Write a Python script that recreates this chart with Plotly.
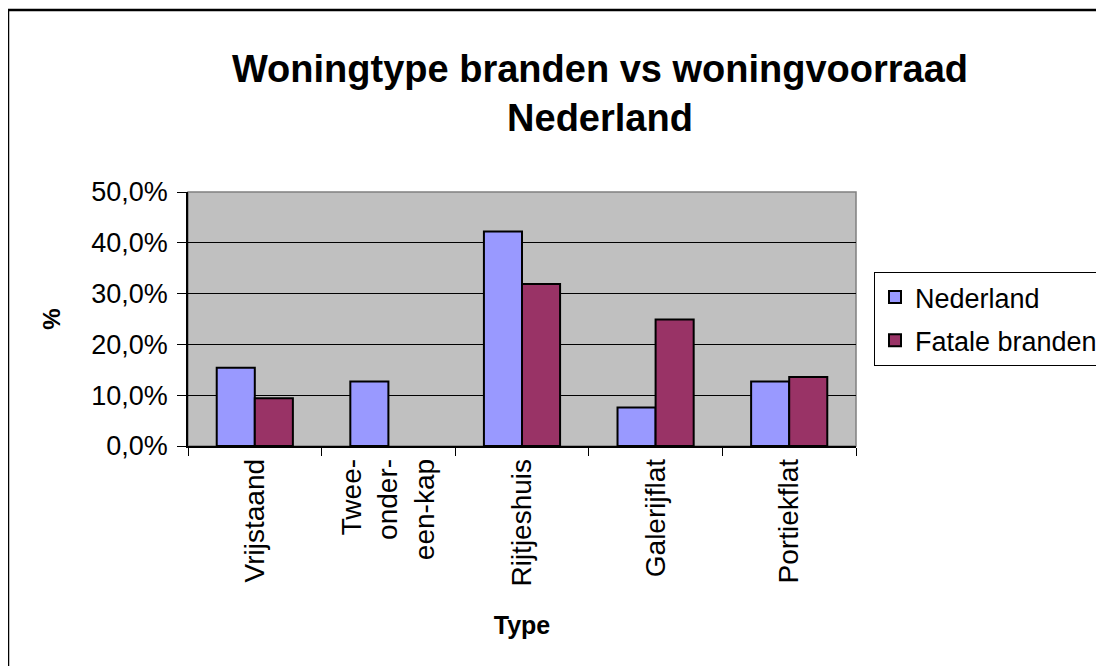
import plotly.graph_objects as go

categories = ["Vrijstaand", "Twee-<br>onder-<br>een-kap", "Rijtjeshuis", "Galerijflat", "Portiekflat"]
nederland = [0.154, 0.127, 0.422, 0.076, 0.127]
fatale = [0.094, None, 0.319, 0.249, 0.136]
series_names = ["Nederland", "Fatale branden"]
y_ticks = [0.0, 0.1, 0.2, 0.3, 0.4, 0.5]

# the page has an 8px body margin; work in figure coordinates (page - 8)
OFF = 8
W, H = 1104 - OFF, 666 - OFF
L, R, T, B = 188 - OFF, W - (856 - OFF), 192 - OFF, H - (446 - OFF)
pw, ph = W - L - R, H - T - B

def px_x(x):
    return (x - OFF - L) / pw

def px_y(y):
    return (H - B - (y - OFF)) / ph

fig = go.Figure()
fig.add_trace(go.Bar(x=categories, y=nederland, name=series_names[0], legendgroup="a",
                     marker=dict(color="#9999FF", line=dict(color="black", width=2))))
fig.add_trace(go.Bar(x=categories, y=fatale, name=series_names[1], legendgroup="b",
                     marker=dict(color="#993366", line=dict(color="black", width=2))))

font = "Liberation Sans, Arial, sans-serif"
fig.update_layout(
    width=W, height=H,
    margin=dict(l=L, r=R, t=T, b=B, autoexpand=False),
    paper_bgcolor="white",
    plot_bgcolor="#C0C0C0",
    separators=",.",
    barmode="group",
    bargap=0.43,
    bargroupgap=0,
    font=dict(family=font, size=27, color="black"),
    title=dict(text="<b>Woningtype branden vs woningvoorraad<br>Nederland</b>",
               x=(600 - OFF) / W, xanchor="center", xref="container",
               y=1 - (82 - OFF) / H, yanchor="top", yref="container",
               font=dict(family=font, size=38, color="black")),
    legend=dict(x=px_x(874), y=px_y(272), xanchor="left", yanchor="top",
                bordercolor="black", borderwidth=1, bgcolor="white",
                font=dict(family=font, size=27), traceorder="grouped",
                tracegroupgap=5, itemwidth=30),
    showlegend=True,
)
fig.update_yaxes(range=[0, 0.5], tickvals=y_ticks, tickformat=".1%",
                 showgrid=True, gridcolor="black", gridwidth=1,
                 showline=True, linecolor="black", linewidth=1.5,
                 ticks="outside", ticklen=9, tickcolor="black",
                 ticklabelstandoff=4,
                 zeroline=False, tickfont=dict(size=27),
                 title=dict(text="<b>%</b>", font=dict(size=24), standoff=24))
fig.update_xaxes(tickangle=-90, showline=True, linecolor="black", linewidth=1.5,
                 ticks="outside", ticklen=8, tickcolor="black", tickson="boundaries",
                 tickfont=dict(size=28),
                 title=dict(text="<b>Type</b>", font=dict(size=25), standoff=31))

# plot area border (gray) and outer chart border (black)
fig.add_shape(type="rect", xref="paper", yref="paper", x0=0, y0=0, x1=1, y1=1,
              line=dict(color="#808080", width=1.5), layer="below")
fig.add_shape(type="rect", xref="paper", yref="paper",
              x0=px_x(8), y0=px_y(720), x1=px_x(1160), y1=px_y(10),
              line=dict(color="black", width=2.5))

fig.write_html("out.html")
